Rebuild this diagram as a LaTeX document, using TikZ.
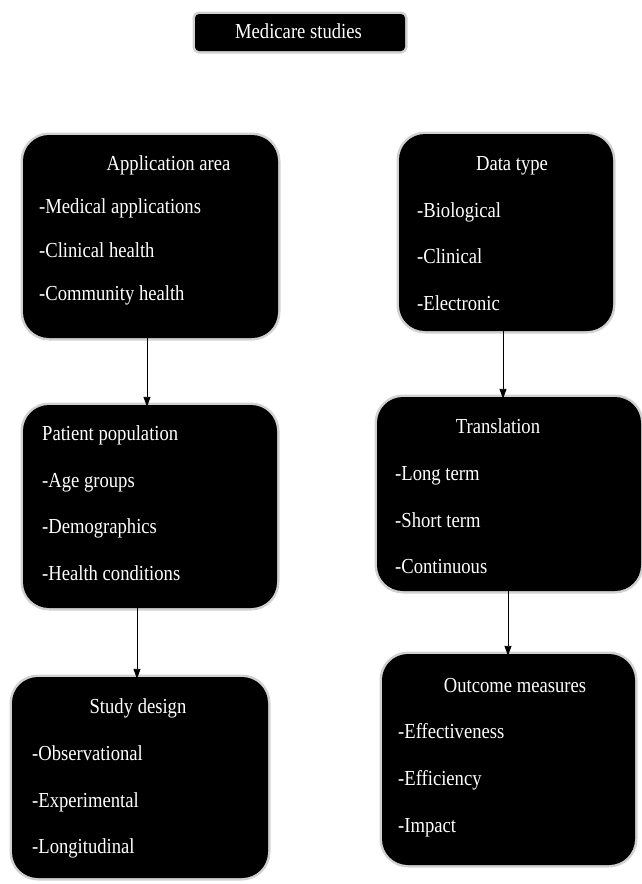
\documentclass[tikz,border=0pt]{standalone}
\usepackage{fontspec}
\setmainfont{Liberation Serif}[FakeStretch=0.87]
\usetikzlibrary{arrows.meta}
\tikzset{
  box/.style={rectangle, rounded corners=26pt, fill=black, inner sep=0pt,
    preaction={draw=black!18, line width=5pt}},
  tbox/.style={rectangle, rounded corners=4pt, fill=black, inner sep=0pt,
    preaction={draw=black!18, line width=5pt}},
  ttl/.style={text=white, font=\fontsize{21.4}{23}\selectfont, inner sep=0pt, anchor=base},
  itm/.style={text=white, font=\fontsize{21.4}{23}\selectfont, inner sep=0pt, anchor=base west},
  arr/.style={-{Triangle[length=10pt,width=7pt]}, line width=0.9pt, black}
}
\begin{document}
\begin{tikzpicture}[x=1pt,y=-1pt]
\useasboundingbox (0,0) rectangle (641,884);
% boxes
\node[tbox, minimum width=210pt, minimum height=37pt] (top) at (300,32.5) {};
\node[box, minimum width=255pt, minimum height=203pt] (app) at (150.5,236.5) {};
\node[box, minimum width=254pt, minimum height=203pt] (pat) at (150,506.5) {};
\node[box, minimum width=256pt, minimum height=201pt] (stu) at (140,777.5) {};
\node[box, minimum width=214pt, minimum height=197pt] (dat) at (506,232.5) {};
\node[box, minimum width=264pt, minimum height=194pt] (tra) at (509,494) {};
\node[box, minimum width=253pt, minimum height=211pt] (out) at (508.5,759.5) {};
% texts
\node[ttl] (t0) at (298.5,38) {Medicare studies};
\node[ttl] (t1) at (168.5,170) {Application area};
\node[itm] (a1) at (39,213) {-Medical applications};
\node[itm] (a2) at (39,257) {-Clinical health};
\node[itm] (a3) at (39,300) {-Community health};
\node[itm] (t2) at (42,440) {Patient population};
\node[itm] (p1) at (42,487) {-Age groups};
\node[itm] (p2) at (42,533) {-Demographics};
\node[itm] (p3) at (42,580) {-Health conditions};
\node[ttl] (t3) at (138,713) {Study design};
\node[itm] (s1) at (32,760) {-Observational};
\node[itm] (s2) at (32,807) {-Experimental};
\node[itm] (s3) at (32,853) {-Longitudinal};
\node[ttl] (t4) at (512,170) {Data type};
\node[itm] (d1) at (417,217) {-Biological};
\node[itm] (d2) at (417,263) {-Clinical};
\node[itm] (d3) at (417,310) {-Electronic};
\node[ttl] (t5) at (498,433) {Translation};
\node[itm] (r1) at (395,480) {-Long term};
\node[itm] (r2) at (395,527) {-Short term};
\node[itm] (r3) at (395,573) {-Continuous};
\node[ttl] (t6) at (515,692) {Outcome measures};
\node[itm] (o1) at (398,738) {-Effectiveness};
\node[itm] (o2) at (398,785) {-Efficiency};
\node[itm] (o3) at (398,832) {-Impact};
% arrows
\draw[arr] ([xshift=-3.5pt,yshift=7pt]app.south) -- ([xshift=-3pt,yshift=-2pt]pat.north);
\draw[arr] ([xshift=-13pt,yshift=6pt]pat.south) -- ([xshift=-3pt,yshift=-2pt]stu.north);
\draw[arr] ([xshift=-3pt,yshift=6pt]dat.south) -- ([xshift=-6pt,yshift=-2pt]tra.north);
\draw[arr] ([xshift=-1pt,yshift=7pt]tra.south) -- ([xshift=-0.5pt,yshift=-2pt]out.north);
\end{tikzpicture}
\end{document}
